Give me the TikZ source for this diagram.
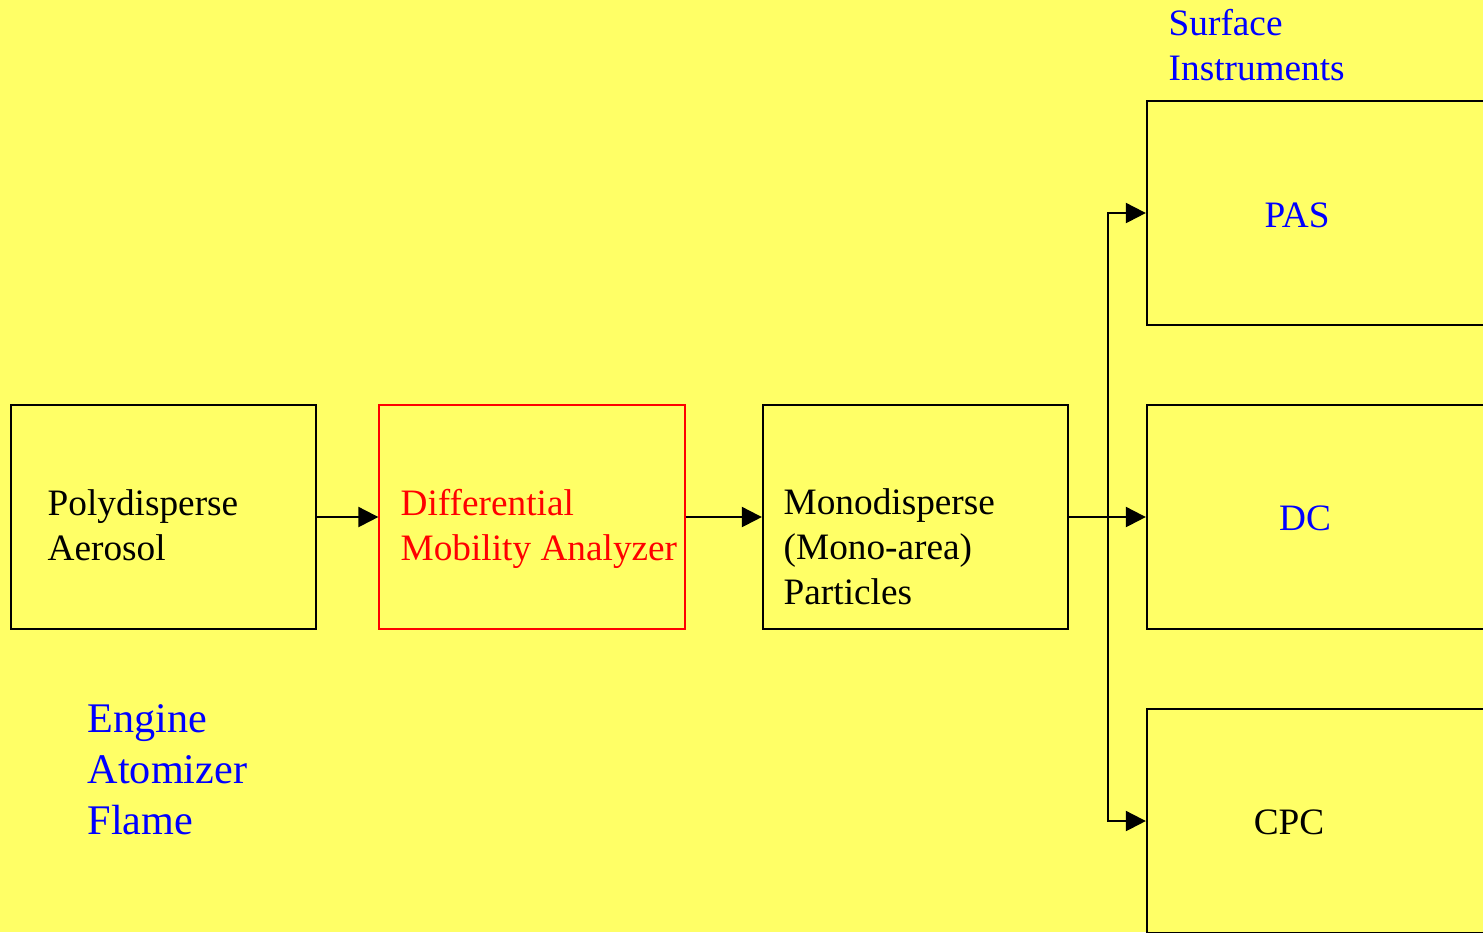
\documentclass[tikz,border=0pt]{standalone}
\usepackage{fontspec}
\setmainfont{Liberation Serif}
\usetikzlibrary{arrows.meta}
\definecolor{bgyellow}{HTML}{FFFF66}
\definecolor{instblue}{HTML}{0000FF}
\definecolor{dmared}{HTML}{FF0000}

\begin{document}
\begin{tikzpicture}[x=0.01cm,y=-0.01cm]
  \tikzstyle{block}=[rectangle,draw=black,line width=0.6pt,minimum width=3.05cm,minimum height=2.24cm,inner sep=0pt]
  \tikzstyle{wide}=[block,minimum width=3.53cm]
  \tikzstyle{txt}=[inner sep=0pt,align=left,anchor=base west,font=\fontsize{10.6}{12.8}\selectfont]
  \tikzstyle{big}=[txt,text=instblue,font=\fontsize{12}{14.5}\selectfont]
  \tikzstyle{flow}=[line width=0.6pt,-{Triangle[length=0.2cm,width=0.2cm]}]
  \fill[bgyellow] (0,0) rectangle (1483,932);
  \useasboundingbox (0,0) rectangle (1483,932);
  \clip (0,0) rectangle (1483,932);
  % main chain
  \node[block] (poly) at (163.5,517) {};
  \node[block,draw=dmared] (dma) at (532,517) {};
  \node[block] (mono) at (915.5,517) {};
  \node[txt] (polytxt) at (47,560) {Polydisperse\\Aerosol};
  \node[txt,text=dmared] (dmatxt) at (400,560) {Differential\\Mobility Analyzer};
  \node[txt] (monotxt) at (783,604) {Monodisperse\\(Mono-area)\\Particles};
  \node[big] (sources) at (87,834) {Engine\\Atomizer\\Flame};
  % surface instruments
  \node[wide] (pas) at (1323.5,213) {};
  \node[wide] (dc) at (1323.5,517) {};
  \node[wide] (cpc) at (1323.5,821) {};
  \node[txt,text=instblue] (inst) at (1168,80) {Surface\\Instruments};
  \node[txt,text=instblue,anchor=base] (pastxt) at (1297,227) {PAS};
  \node[txt,text=instblue,anchor=base] (dctxt) at (1305,530) {DC};
  \node[txt,anchor=base] (cpctxt) at (1289,834) {CPC};
  % connectors
  \coordinate (split) at (1108,517);
  \draw[flow] (poly.east) -- (dma.west);
  \draw[flow] (dma.east) -- (mono.west);
  \draw[flow] (mono.east) -- (dc.west);
  \draw[flow] (split) |- (pas.west);
  \draw[flow] (split) |- (cpc.west);
\end{tikzpicture}
\end{document}
